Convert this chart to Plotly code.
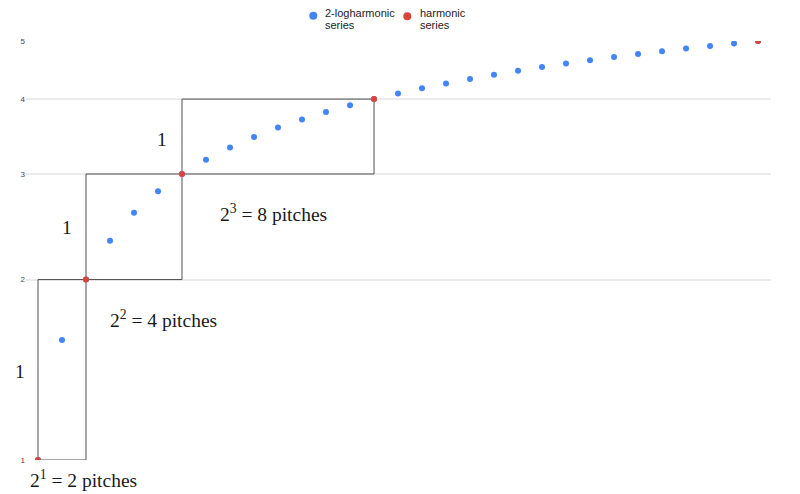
import plotly.graph_objects as go

# Data
x_vals = [1, 1.5, 2, 2.5, 3, 3.5, 4, 4.5, 5, 5.5, 6, 6.5, 7, 7.5, 8,
          8.5, 9, 9.5, 10, 10.5, 11, 11.5, 12, 12.5, 13, 13.5, 14, 14.5, 15, 15.5, 16]
logharmonic = [1, 1.585, 2, 2.322, 2.585, 2.807, 3, 3.17, 3.322, 3.459, 3.585, 3.7, 3.807, 3.907, 4,
               4.087, 4.17, 4.248, 4.322, 4.392, 4.459, 4.524, 4.585, 4.644, 4.7, 4.755, 4.807, 4.858, 4.907, 4.954, 5]
harm_x = [1, 2, 4, 8, 16]
harm_y = [1, 2, 3, 4, 5]

box_x0 = [1, 2, 4]
box_x1 = [2, 4, 8]
box_y0 = [1, 2, 3]
box_y1 = [2, 3, 4]

y_ticks = [1, 2, 3, 4, 5]

BLUE = "#4285F4"
RED = "#DB4437"

fig = go.Figure()

# boxes
bx, by = [], []
for x0, x1, y0, y1 in zip(box_x0, box_x1, box_y0, box_y1):
    bx += [x0, x1, x1, x0, x0, None]
    by += [y0, y0, y1, y1, y0, None]
fig.add_trace(go.Scatter(x=bx, y=by, mode="lines", line=dict(color="#505050", width=1),
                         showlegend=False, hoverinfo="skip"))

fig.add_trace(go.Scatter(x=x_vals, y=logharmonic, mode="markers",
                         name="2-logharmonic series", showlegend=False,
                         marker=dict(color=BLUE, size=6)))
fig.add_trace(go.Scatter(x=harm_x, y=harm_y, mode="markers",
                         name="harmonic series", showlegend=False,
                         marker=dict(color=RED, size=6)))

L, R, T, B = 26, 29, 41, 34
PW, PH = 800 - L - R, 494 - T - B


def px(xp):
    return (xp - L) / PW


def py(yp):
    return (494 - B - yp) / PH


serif = dict(family="Liberation Serif, DejaVu Serif, serif", size=19.5, color="#1a1a1a")
ann = [
    ("1", 20, 371),
    ("1", 67, 227),
    ("1", 162, 139),
    ("2<sup>1</sup> = 2 pitches", 83, 479),
    ("2<sup>2</sup> = 4 pitches", 163, 319),
    ("2<sup>3</sup> = 8 pitches", 273, 213),
]
for text, ax, ay in ann:
    fig.add_annotation(text=text, x=px(ax), y=py(ay), xref="paper", yref="paper",
                       showarrow=False, font=serif, xanchor="center", yanchor="middle")

# legend (drawn manually)
leg_font = dict(family="Liberation Sans, Arial, sans-serif", size=11, color="#222222")
legend_items = [
    (BLUE, 313.3, 15.8, ["2-logharmonic", "series"], 322.5),
    (RED, 407.3, 16.3, ["harmonic", "series"], 418.3),
]
for color, cx, cy, lines, tx in legend_items:
    fig.add_shape(type="circle", xref="paper", yref="paper",
                  xsizemode="pixel", ysizemode="pixel",
                  xanchor=px(cx), yanchor=py(cy), x0=-4, x1=4, y0=-4, y1=4,
                  fillcolor=color, line=dict(width=0))
    for i, line in enumerate(lines):
        fig.add_annotation(text=line, x=px(tx), y=py(13.3 + 11.8 * i), xref="paper", yref="paper",
                           showarrow=False, font=leg_font, xanchor="left", yanchor="middle")

fig.update_layout(
    width=800, height=494,
    margin=dict(l=L, r=R, t=T, b=B, autoexpand=False),
    plot_bgcolor="white", paper_bgcolor="white",
    font=dict(family="Liberation Sans, Arial, sans-serif"),
    showlegend=False,
    xaxis=dict(range=[0.75, 16.27], showgrid=False, showticklabels=False,
               zeroline=False, ticks="", showline=False, automargin=False),
    yaxis=dict(type="log", range=[0, 0.69897], tickvals=y_ticks,
               ticktext=[str(v) for v in y_ticks],
               showgrid=True, gridcolor="#ebebeb", gridwidth=1.5,
               tickfont=dict(size=8, color="#444444"), zeroline=False, ticks="",
               showline=False, automargin=False),
)

fig.write_html("out.html", config={"displayModeBar": False},
               post_script="document.body.style.margin='0px';document.body.style.overflow='hidden';")
